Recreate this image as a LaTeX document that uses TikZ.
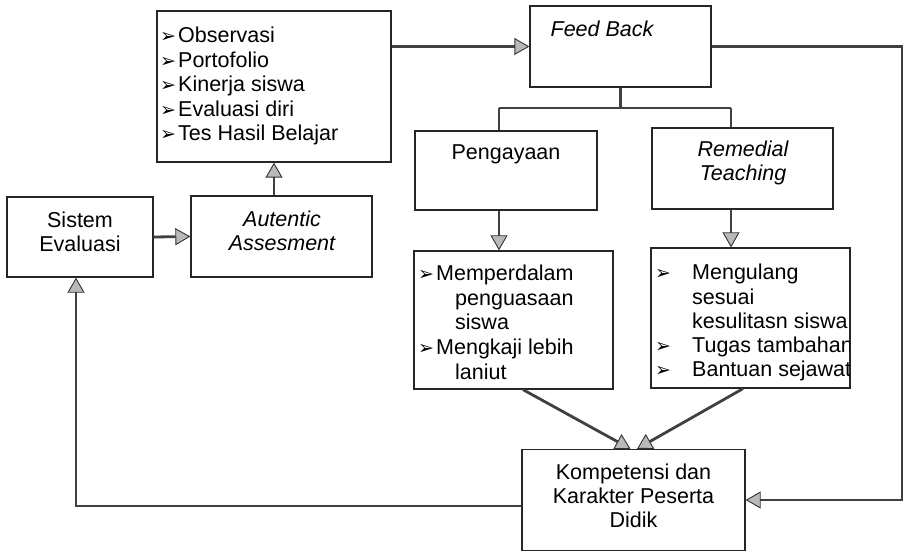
\documentclass[tikz,border=0pt]{standalone}
\usepackage{fontspec}
\setmainfont{Liberation Sans}
\newfontfamily\dingfont{DejaVu Sans}
\usetikzlibrary{arrows.meta}
% list bullet: arrowhead dingbat in a fixed-width slot
\newcommand{\blt}[1][18bp]{\makebox[#1][l]{\dingfont\fontsize{19bp}{19bp}\selectfont ➢}}
\newcommand{\ind}{\hspace{19bp}}
\tikzset{
  box/.style={draw=black!85, line width=1.3bp, inner sep=0pt, fill=white},
  txt/.style={inner sep=0pt, anchor=base, font=\fontsize{21.5bp}{24bp}\selectfont},
  lst/.style={inner sep=0pt, anchor=base west, font=\fontsize{21.5bp}{24.5bp}\selectfont},
  link/.style={draw=black!75, line width=2.8bp},
  arr/.style={link, -{Triangle[length=15bp,width=17bp,fill=gray!55,color=black!80,line width=0.9bp]}},
}
\begin{document}
\begin{tikzpicture}[x=1bp,y=-1bp]
\useasboundingbox (0,0) rectangle (910,552);
% boxes
\node[box, minimum width=234bp, minimum height=151bp] (L)  at (274,86.5)  {};
\node[box, minimum width=181bp, minimum height=81bp]  (FB) at (620.5,46.5) {};
\node[box, minimum width=182bp, minimum height=79bp]  (PG) at (506,170.5)  {};
\node[box, minimum width=181bp, minimum height=81bp]  (RT) at (742.5,168.5) {};
\node[box, minimum width=199bp, minimum height=138bp] (MP) at (513.5,320)  {};
\node[box, minimum width=199bp, minimum height=140bp] (MU) at (750.5,318)  {};
\node[box, minimum width=223bp, minimum height=101bp] (KP) at (633.5,500)  {};
\node[box, minimum width=146bp, minimum height=80bp]  (SE) at (80,237)     {};
\node[box, minimum width=181bp, minimum height=81bp]  (AA) at (281.5,236.5) {};
% texts
\node[lst] (Lt) at (160,43) {\begin{tabular}[t]{@{}l@{}l@{}}
  \blt & Observasi\\ \blt & Portofolio\\ \blt & Kinerja siswa\\
  \blt & Evaluasi diri\\ \blt & Tes Hasil Belajar\end{tabular}};
\node[txt] (FBt) at (602,37) {\itshape Feed Back};
\node[txt] (PGt) at (506,160) {Pengayaan};
\node[txt] (RTt) at (743,157) {\itshape\begin{tabular}[t]{@{}c@{}}Remedial\\Teaching\end{tabular}};
\node[txt] (SEt) at (80,228) {\begin{tabular}[t]{@{}c@{}}Sistem\\Evaluasi\end{tabular}};
\node[txt] (AAt) at (282,227) {\itshape\begin{tabular}[t]{@{}c@{}}Autentic\\Assesment\end{tabular}};
\node[txt] (KPt) at (633.5,479) {\begin{tabular}[t]{@{}c@{}}Kompetensi dan\\Karakter Peserta\\Didik\end{tabular}};
\node[lst] (MPt) at (418,281) {\begin{tabular}[t]{@{}l@{}l@{}}
  \blt & Memperdalam\\ & \ind penguasaan\\ & \ind siswa\\
  \blt & Mengkaji lebih\\ & \ind laniut\end{tabular}};
\begin{scope}
  \clip (MU.south west) rectangle ([xshift=-1bp]MU.north east);
  \node[lst, font=\fontsize{21.5bp}{24.2bp}\selectfont] (MUt) at (655,280) {\begin{tabular}[t]{@{}l@{}l@{}}
    \blt[37bp] & Mengulang\\ & sesuai\\ & kesulitasn siswa\\
    \blt[37bp] & Tugas tambahan\\ \blt[37bp] & Bantuan sejawat\end{tabular}};
\end{scope}
% connectors
\draw[arr] (L.east |- FB.west) -- (FB.west);
\coordinate (rx) at (902,0);
\draw[arr] (FB.east) -| (rx |- KP.east) -- (KP.east);
\coordinate (fork) at (620,108);
\draw[link] (FB.south) -- (FB.south |- fork);
\draw[link] ([xshift=-7bp]PG.north |- fork) -- ([xshift=-11.5bp]RT.north |- fork);
\draw[link] ([xshift=-7bp]PG.north |- fork) -- ([xshift=-7bp]PG.north);
\draw[link] ([xshift=-11.5bp]RT.north |- fork) -- ([xshift=-11.5bp]RT.north);
\draw[arr] ([xshift=-7bp]PG.south) -- ([xshift=-7bp]PG.south |- MP.north);
\draw[arr] ([xshift=-11.5bp]RT.south) -- ([xshift=-11.5bp]RT.south |- MU.north);
\draw[arr] ([xshift=9.5bp]MP.south) -- ([xshift=-3bp]KP.north);
\draw[arr] ([xshift=-7.5bp]MU.south) -- ([xshift=3.5bp]KP.north);
\draw[arr] ([yshift=-6bp]KP.west) -| ([xshift=-4bp]SE.south);
\draw[arr] (SE.east) -- (AA.west);
\draw[arr] (L.south |- AA.north) -- (L.south);
\end{tikzpicture}
\end{document}
